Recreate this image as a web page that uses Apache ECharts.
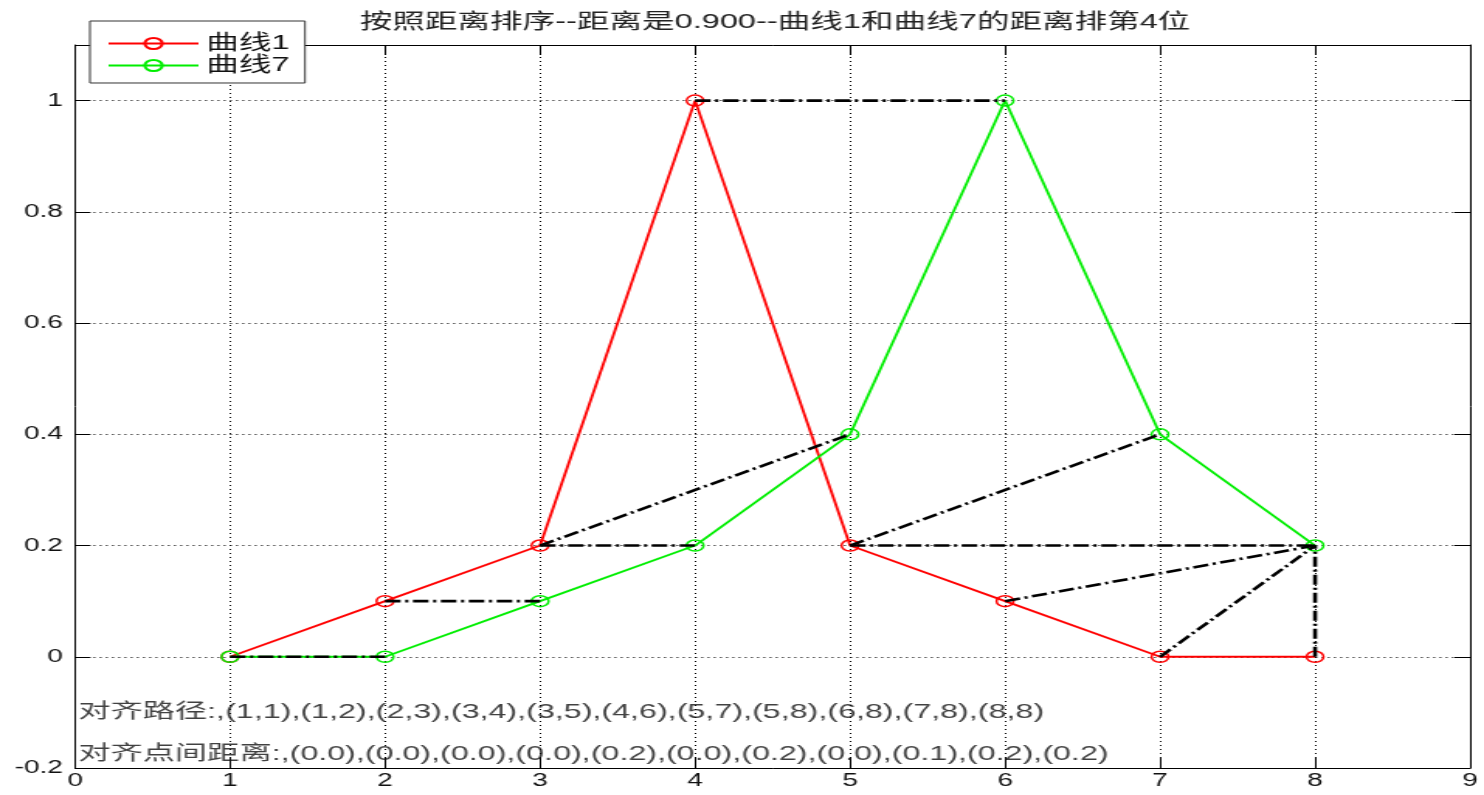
<!DOCTYPE html>
<html>
<head>
<meta charset="utf-8">
<script src="https://cdn.jsdelivr.net/npm/echarts@6/dist/echarts.min.js"></script>
<style>
html,body{margin:0;padding:0;background:#fff;overflow:hidden;}
#wrap{width:1484px;height:795px;overflow:hidden;}
#chart{width:957px;height:795px;transform:scaleX(1.5507);transform-origin:0 0;}
</style>
</head>
<body>
<div id="wrap"><div id="chart"></div></div>
<script>
// ---- data ----
const titleText = '按照距离排序--距离是0.900--曲线1和曲线7的距离排第4位';
const seriesNames = ['曲线1', '曲线7'];
const xValues = [1, 2, 3, 4, 5, 6, 7, 8];
const curve1 = [0, 0.1, 0.2, 1, 0.2, 0.1, 0, 0];
const curve7 = [0, 0, 0.1, 0.2, 0.4, 1, 0.4, 0.2];
const alignPath = [[1,1],[1,2],[2,3],[3,4],[3,5],[4,6],[5,7],[5,8],[6,8],[7,8],[8,8]];
const alignDist = [0.0, 0.0, 0.0, 0.0, 0.2, 0.0, 0.2, 0.0, 0.1, 0.2, 0.2];
const pathLabel = '对齐路径:';
const distLabel = '对齐点间距离:';
const annotationPos = [[0, -0.1], [0, -0.175]];
const xTicks = {min: 0, max: 9, interval: 1};
const yTicks = {min: -0.2, max: 1.1, interval: 0.2};

// ---- build ----
const FONT = '"Liberation Sans", "Noto Sans CJK SC", sans-serif';
const pathText = pathLabel + ',' + alignPath.map(p => '(' + p[0] + ',' + p[1] + ')').join(',');
const distText = distLabel + ',' + alignDist.map(d => '(' + d.toFixed(1) + ')').join(',');

const series = [];
function curveSeries(name, ys, color) {
  return {
    name: name, type: 'line', xAxisIndex: 0, yAxisIndex: 0,
    data: xValues.map((x, i) => [x, ys[i]]),
    color: color,
    symbol: 'circle', symbolSize: 11, showSymbol: true,
    lineStyle: {color: color, width: 1.8},
    itemStyle: {color: 'rgba(255,255,255,0)', borderColor: color, borderWidth: 1.5},
    emphasis: {disabled: true}, z: 2, animation: false
  };
}
series.push(curveSeries(seriesNames[0], curve1, '#ff0000'));
series.push(curveSeries(seriesNames[1], curve7, '#00ee00'));

alignPath.forEach(p => {
  series.push({
    type: 'line', xAxisIndex: 0, yAxisIndex: 0,
    data: [[p[0], curve1[p[0]-1]], [p[1], curve7[p[1]-1]]],
    symbol: 'none', silent: true, animation: false, z: 3,
    lineStyle: {color: '#000', width: 2.6, type: [10, 3, 2, 3]}
  });
});

[pathText, distText].forEach((t, i) => {
  series.push({
    type: 'scatter', xAxisIndex: 0, yAxisIndex: 0,
    data: [annotationPos[i]], symbolSize: 0, silent: true, animation: false, clip: false, z: 4,
    label: {show: true, position: 'right', distance: 2, formatter: t,
      color: '#111', fontSize: 20.8, fontFamily: FONT}
  });
});

const axisLine = {show: true, onZero: false, lineStyle: {color: '#000', width: 1}};
const tick = {show: true, inside: true, length: 10, lineStyle: {color: '#000', width: 1}};
const grid = {type: [1, 3], color: '#000', width: 1};

const option = {
  backgroundColor: '#fff',
  animation: false,
  title: {
    text: titleText, left: 227, top: 7,
    textStyle: {fontSize: 21, fontWeight: 'normal', color: '#222', fontFamily: FONT}
  },
  legend: {
    data: seriesNames, orient: 'vertical', left: 58, top: 21,
    backgroundColor: '#fff', borderColor: '#333', borderWidth: 1, borderRadius: 0,
    padding: [12, 10, 7, 11], itemWidth: 58, itemHeight: 14, itemGap: 1,
    textStyle: {fontSize: 21, color: '#111', fontFamily: FONT},
    selectedMode: false
  },
  grid: {left: 48.4, right: 9, top: 45, bottom: 27, containLabel: false},
  xAxis: [
    {type: 'value', position: 'bottom', min: xTicks.min, max: xTicks.max, interval: xTicks.interval,
     axisLine: axisLine, axisTick: tick,
     axisLabel: {fontSize: 18, color: '#111', margin: 4, fontFamily: FONT},
     splitLine: {show: true, lineStyle: grid}},
    {type: 'value', position: 'top', min: xTicks.min, max: xTicks.max, interval: xTicks.interval,
     axisLine: axisLine, axisTick: tick, axisLabel: {show: false}, splitLine: {show: false}}
  ],
  yAxis: [
    {type: 'value', position: 'left', min: yTicks.min, max: yTicks.max, interval: yTicks.interval,
     axisLine: axisLine, axisTick: tick,
     axisLabel: {fontSize: 18, color: '#111', margin: 8, fontFamily: FONT,
       formatter: v => (v > 1.05 ? '' : String(Math.round(v * 10) / 10))},
     splitLine: {show: true, lineStyle: grid}},
    {type: 'value', position: 'right', min: yTicks.min, max: yTicks.max, interval: yTicks.interval,
     axisLine: axisLine, axisTick: tick, axisLabel: {show: false}, splitLine: {show: false}}
  ],
  series: series
};

const chart = echarts.init(document.getElementById('chart'));
chart.setOption(option);
</script>
</body>
</html>
